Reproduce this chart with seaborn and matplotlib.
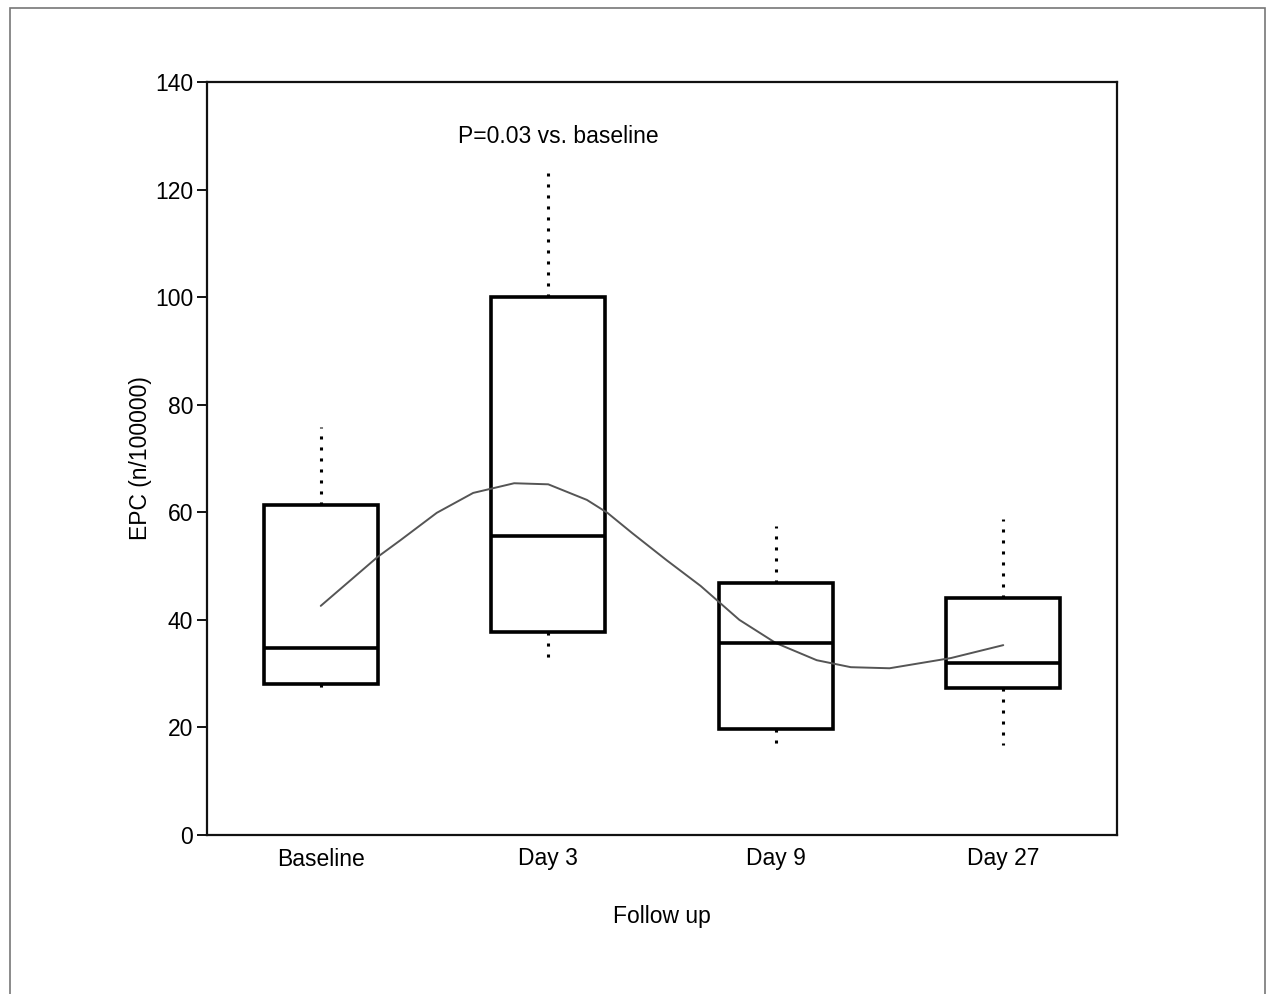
import pandas as pd
import numpy as np
import matplotlib.pyplot as plt
import matplotlib.patches as mpatches
import seaborn as sns

# Cinco números (mínimo, Q1, mediana, Q3, máximo) por visita
visitas = ["Baseline", "Day 3", "Day 9", "Day 27"]
baseline = [27.0, 28.0, 34.8, 61.3, 75.8]
day3 = [33.0, 37.7, 55.6, 100.0, 123.0]
day9 = [17.0, 19.7, 35.7, 46.8, 57.5]
day27 = [16.7, 27.3, 32.0, 44.0, 58.8]

# Curva suavizada (posição na escala das categorias, EPC)
curva_x = [0.0, 0.25, 0.35, 0.51, 0.67, 0.85, 1.0, 1.17, 1.26, 1.37, 1.52,
           1.67, 1.84, 2.0, 2.18, 2.33, 2.5, 2.77, 3.0]
curva_y = [42.6, 51.7, 54.8, 59.9, 63.6, 65.4, 65.2, 62.3, 59.9, 56.1, 51.1,
           46.3, 40.0, 35.7, 32.5, 31.2, 31.0, 32.9, 35.3]

valores = {"Baseline": baseline, "Day 3": day3, "Day 9": day9, "Day 27": day27}
df = pd.DataFrame(
    [(v, x) for v in visitas for x in valores[v]], columns=["visita", "epc"]
)

sns.set_style("white")
plt.rcParams["font.family"] = ["Liberation Sans", "DejaVu Sans"]
plt.rcParams["text.color"] = "black"
plt.rcParams["axes.labelcolor"] = "black"
plt.rcParams["xtick.color"] = "black"
plt.rcParams["ytick.color"] = "black"

fig = plt.figure(figsize=(12.7, 9.94), dpi=100)
ax = fig.add_axes([207 / 1270, 1 - 835 / 994, 910 / 1270, 753 / 994])

sns.boxplot(
    data=df, x="visita", y="epc", order=visitas, ax=ax,
    width=0.5, color="white", linecolor="black", linewidth=2.6,
    showcaps=False, fliersize=0, saturation=1,
    whiskerprops=dict(linestyle=(0, (1, 2.6)), linewidth=2.2),
    medianprops=dict(linewidth=2.6),
)

ax.plot(curva_x, curva_y, color="#555555", linewidth=1.4)

ax.text(0.603, 129.9, "P=0.03 vs. baseline", ha="left", va="center", fontsize=16.5)

ax.set_xlim(-0.5, 3.5)
ax.set_ylim(0, 140)
ax.set_yticks(np.arange(0, 141, 20))
ax.tick_params(axis="y", left=True, length=7, width=1.3, labelsize=16.5, pad=3)
ax.tick_params(axis="x", bottom=False, length=0, labelsize=16.5, pad=9)
ax.set_xlabel("Follow up", fontsize=16.5, labelpad=25)
ax.set_ylabel("EPC (n/100000)", fontsize=16.5, labelpad=2)

for lado, spine in ax.spines.items():
    spine.set_visible(True)
    spine.set_color("#111111")
    spine.set_linewidth(1.6)

# Moldura externa da figura
moldura = mpatches.Rectangle(
    (10 / 1270, -0.02), 1255 / 1270, 1.02 - 8 / 994,
    transform=fig.transFigure, fill=False, edgecolor="#777777", linewidth=1.2
)
fig.patches.append(moldura)

fig.savefig("out.png", dpi=100)
